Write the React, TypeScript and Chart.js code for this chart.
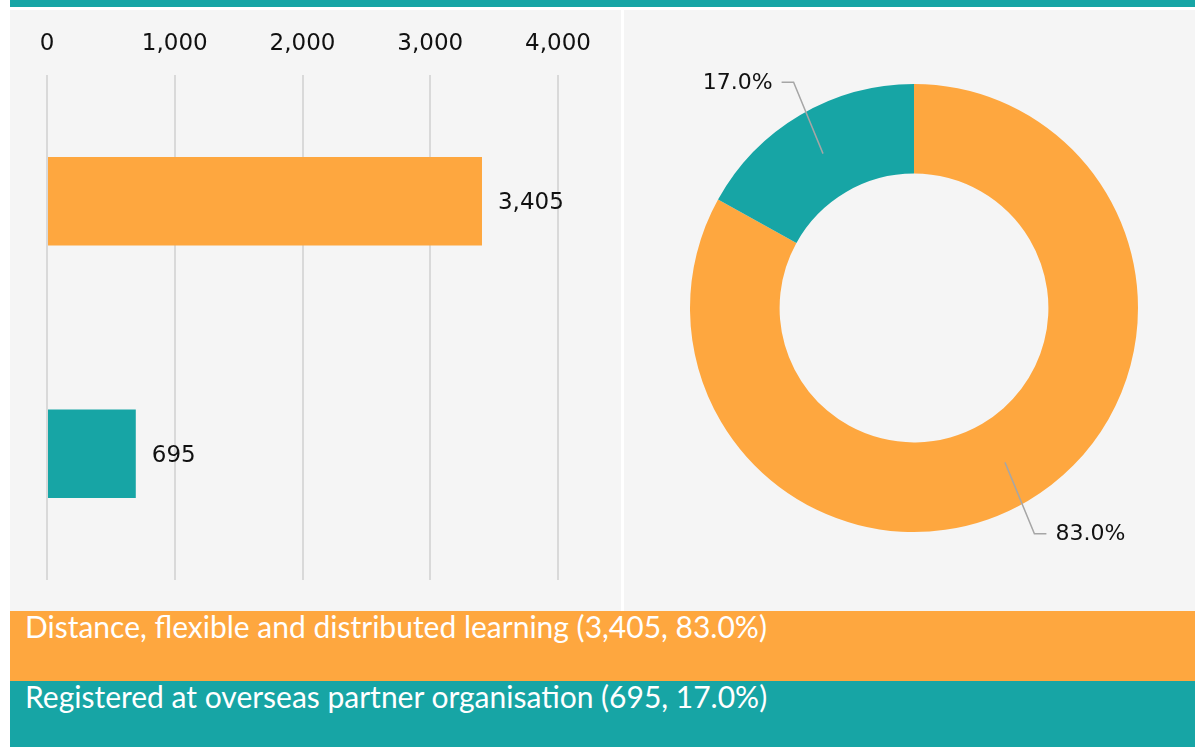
import React, { useEffect, useRef } from "react";
import { Chart, registerables } from "chart.js";

Chart.register(...registerables);

const categories = [
  "Distance, flexible and distributed learning",
  "Registered at overseas partner organisation",
];
const values = [3405, 695];
const percentLabels = ["83.0%", "17.0%"];
const xTicks = [0, 1000, 2000, 3000, 4000];
const colors = ["#FEA73F", "#17A5A5"];

const TICK_FONT = "'DejaVu Sans', sans-serif";
const LEGEND_FONT = "Lato, 'Open Sans', sans-serif";

const fmt = (v: number) => v.toLocaleString("en-US");

const barLabelPlugin = {
  id: "barLabels",
  afterDatasetsDraw(chart: any) {
    const ctx = chart.ctx;
    const meta = chart.getDatasetMeta(0);
    ctx.save();
    ctx.font = `23px ${TICK_FONT}`;
    ctx.fillStyle = "#111111";
    ctx.textAlign = "left";
    ctx.textBaseline = "middle";
    meta.data.forEach((el: any, i: number) => {
      const p = el.getProps(["x", "y"], true);
      ctx.fillText(fmt(values[i]), p.x + 16, p.y + 2);
    });
    ctx.restore();
  },
};

const donutLabelPlugin = {
  id: "donutLabels",
  afterDatasetsDraw(chart: any) {
    const ctx = chart.ctx;
    const meta = chart.getDatasetMeta(0);
    ctx.save();
    ctx.font = `22px ${TICK_FONT}`;
    ctx.fillStyle = "#111111";
    ctx.textBaseline = "middle";
    ctx.strokeStyle = "#a6a6a6";
    ctx.lineWidth = 1.5;
    meta.data.forEach((el: any, i: number) => {
      const p = el.getProps(
        ["x", "y", "startAngle", "endAngle", "innerRadius", "outerRadius"],
        true
      );
      const mid = (p.startAngle + p.endAngle) / 2;
      const dx = Math.cos(mid);
      const dy = Math.sin(mid);
      const rm = (p.innerRadius + p.outerRadius) / 2;
      const x0 = p.x + dx * rm;
      const y0 = p.y + dy * rm;
      const re = p.outerRadius + 38;
      const xr = p.x + dx * re;
      const x1 = x0 + (xr - x0) * 0.7;
      const y1 = p.y + dy * re;
      const side = dx >= 0 ? 1 : -1;
      const x2 = x1 + side * 12;
      ctx.beginPath();
      ctx.moveTo(x0, y0);
      ctx.lineTo(x1, y1);
      ctx.lineTo(x2, y1);
      ctx.stroke();
      ctx.textAlign = side > 0 ? "left" : "right";
      ctx.fillText(percentLabels[i], x2 + side * 9, y1 + 1);
    });
    ctx.restore();
  },
};

export default function App() {
  const barRef = useRef<HTMLCanvasElement>(null);
  const donutRef = useRef<HTMLCanvasElement>(null);

  useEffect(() => {
    const bar = new Chart(barRef.current!, {
      type: "bar",
      data: {
        labels: categories,
        datasets: [
          {
            data: values,
            backgroundColor: colors,
            borderWidth: 0,
            barPercentage: 0.35,
            categoryPercentage: 1,
          },
        ],
      },
      options: {
        indexAxis: "y",
        animation: false,
        responsive: false,
        maintainAspectRatio: false,
        layout: { padding: { left: 37, right: 63, top: 0, bottom: 28 } },
        plugins: { legend: { display: false }, tooltip: { enabled: false } },
        scales: {
          x: {
            position: "top",
            min: xTicks[0],
            max: xTicks[xTicks.length - 1],
            afterBuildTicks: (s: any) => {
              s.ticks = xTicks.map((v) => ({ value: v }));
            },
            afterFit: (s: any) => {
              s.height = 65;
            },
            ticks: {
              padding: 17,
              color: "#111111",
              font: { size: 23, family: TICK_FONT },
              callback: (v: any) => fmt(Number(v)),
              maxRotation: 0,
            },
            grid: { color: "#d9d9d9", lineWidth: 2, drawTicks: false },
            border: { display: false },
          },
          y: {
            display: false,
            grid: { display: false },
          },
        },
      },
      plugins: [barLabelPlugin],
    } as any);

    const donut = new Chart(donutRef.current!, {
      type: "doughnut",
      data: {
        labels: categories,
        datasets: [
          {
            data: values,
            backgroundColor: colors,
            borderWidth: 0,
          },
        ],
      },
      options: {
        animation: false,
        responsive: false,
        maintainAspectRatio: false,
        cutout: "60%",
        layout: { padding: { left: 66, right: 57, top: 74, bottom: 76 } },
        plugins: { legend: { display: false }, tooltip: { enabled: false } },
      },
      plugins: [donutLabelPlugin],
    } as any);

    return () => {
      bar.destroy();
      donut.destroy();
    };
  }, []);

  const legendRow = (i: number, top: number, height: number) => (
    <div
      style={{
        position: "absolute",
        left: 10,
        top,
        width: 1185,
        height,
        background: colors[i],
        color: "#ffffff",
        fontFamily: LEGEND_FONT,
        fontSize: 30,
        lineHeight: "30px",
        boxSizing: "border-box",
        paddingLeft: 15,
        paddingTop: 0,
        whiteSpace: "nowrap",
      }}
    >
      {categories[i]} ({fmt(values[i])}, {percentLabels[i]})
    </div>
  );

  return (
    <div
      style={{
        position: "absolute",
        left: 0,
        top: 0,
        width: 1195,
        height: 747,
        background: "#ffffff",
        overflow: "hidden",
      }}
    >
      <div
        style={{
          position: "absolute",
          left: 10,
          top: 0,
          width: 1185,
          height: 7,
          background: colors[1],
        }}
      />
      <div
        style={{
          position: "absolute",
          left: 10,
          top: 10,
          width: 611,
          height: 601,
          background: "#f5f5f5",
        }}
      >
        <canvas ref={barRef} width={611} height={598} style={{ display: "block" }} />
      </div>
      <div
        style={{
          position: "absolute",
          left: 624,
          top: 10,
          width: 571,
          height: 601,
          background: "#f5f5f5",
        }}
      >
        <canvas ref={donutRef} width={571} height={598} style={{ display: "block" }} />
      </div>
      {legendRow(0, 611, 70)}
      {legendRow(1, 681, 66)}
    </div>
  );
}
